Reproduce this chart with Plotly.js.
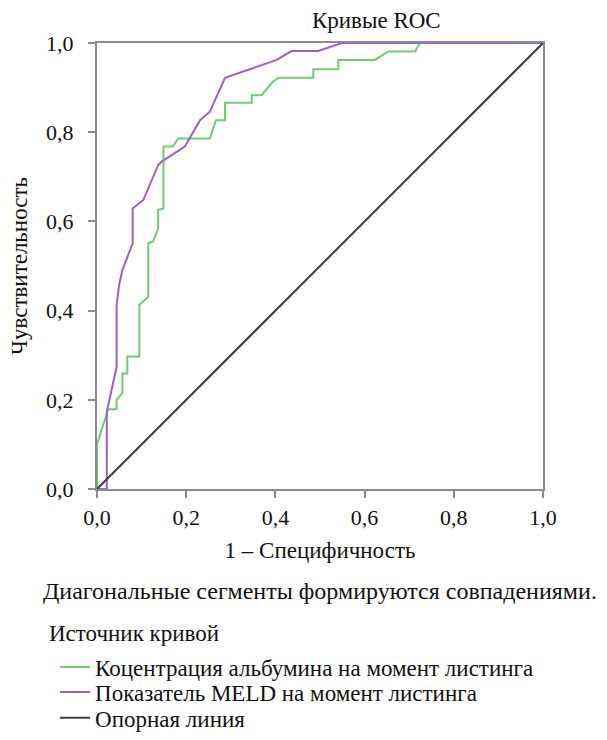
<!DOCTYPE html>
<html>
<head>
<meta charset="utf-8">
<script src="https://cdn.plot.ly/plotly-3.0.1.min.js"></script>
<style>html,body{margin:0;padding:0;background:#fff;}#chart{width:607px;height:740px;}</style>
</head>
<body>
<div id="chart"></div>
<script>
const albuminX = [0, 0, 0.025, 0.044, 0.044, 0.057, 0.057, 0.068, 0.068, 0.095, 0.095, 0.115, 0.115, 0.126, 0.137, 0.137, 0.149, 0.149, 0.170, 0.182, 0.253, 0.267, 0.287, 0.287, 0.347, 0.347, 0.369, 0.394, 0.407, 0.485, 0.485, 0.541, 0.541, 0.623, 0.653, 0.713, 0.724, 1.0];
const albuminY = [0, 0.10, 0.179, 0.179, 0.20, 0.215, 0.259, 0.259, 0.297, 0.297, 0.413, 0.431, 0.551, 0.555, 0.584, 0.626, 0.629, 0.768, 0.768, 0.786, 0.786, 0.827, 0.827, 0.866, 0.866, 0.883, 0.883, 0.913, 0.922, 0.922, 0.941, 0.941, 0.962, 0.962, 0.981, 0.981, 1.0, 1.0];
const meldX = [0, 0.022, 0.022, 0.044, 0.044, 0.050, 0.057, 0.080, 0.080, 0.104, 0.137, 0.145, 0.197, 0.231, 0.253, 0.287, 0.403, 0.436, 0.496, 0.522, 0.549, 1.0];
const meldY = [0, 0, 0.173, 0.274, 0.413, 0.46, 0.491, 0.551, 0.629, 0.648, 0.726, 0.734, 0.768, 0.827, 0.846, 0.922, 0.962, 0.982, 0.982, 0.990, 1.0, 1.0];
const refX = [0, 1];
const refY = [0, 1];
const tickVals = [0, 0.2, 0.4, 0.6, 0.8, 1.0];
const tickText = ["0,0", "0,2", "0,4", "0,6", "0,8", "1,0"];
const seriesNames = ["Коцентрация альбумина на момент листинга", "Показатель MELD на момент листинга", "Опорная линия"];

const FONT = "Liberation Serif, Times New Roman, serif";
const TXT = "#111";
const traces = [
  {x: albuminX, y: albuminY, mode: "lines", name: seriesNames[0], legend: "legend", line: {color: "#6fcd6f", width: 2}},
  {x: meldX, y: meldY, mode: "lines", name: seriesNames[1], legend: "legend2", line: {color: "#9b62c2", width: 2}},
  {x: refX, y: refY, mode: "lines", name: seriesNames[2], legend: "legend3", line: {color: "#3c3c3c", width: 2}}
];
const axisCommon = {
  range: [0, 1], tickvals: tickVals, ticktext: tickText,
  showgrid: false, zeroline: false, showline: true, mirror: true,
  linecolor: "#8c8c8c", linewidth: 2, ticks: "outside", ticklen: 7, tickwidth: 2, tickcolor: "#8c8c8c",
  tickfont: {family: FONT, size: 22, color: TXT}
};
function legendAt(y) {
  return {x: -0.094, xanchor: "left", y: y, yanchor: "middle", bgcolor: "rgba(0,0,0,0)",
    font: {family: FONT, size: 23, color: TXT}, borderwidth: 0};
}
const layout = {
  width: 607, height: 740, autosize: false,
  margin: {l: 97, r: 64, t: 43, b: 251, autoexpand: false},
  paper_bgcolor: "#fff", plot_bgcolor: "#fff",
  font: {family: FONT, size: 23, color: TXT},
  title: {text: "Кривые ROC", font: {family: FONT, size: 23, color: TXT}, xref: "container", yref: "container", x: 0.62, xanchor: "center", y: 0.973, yanchor: "middle"},
  xaxis: Object.assign({}, axisCommon, {ticklabelstandoff: 1, title: {text: "1 – Специфичность", font: {family: FONT, size: 23, color: TXT}, standoff: 12}}),
  yaxis: Object.assign({}, axisCommon, {ticklabelstandoff: 10, title: {text: "Чувствительность", font: {family: FONT, size: 23, color: TXT}, standoff: 12}}),
  showlegend: true,
  legend: legendAt(-0.399),
  legend2: legendAt(-0.455),
  legend3: legendAt(-0.513),
  annotations: [
    {text: "Диагональные сегменты формируются совпадениями.", xref: "paper", yref: "paper", x: 0.5, y: -0.2287, xanchor: "center", yanchor: "middle", showarrow: false, font: {family: FONT, size: 24, color: TXT}},
    {text: "Источник кривой", xref: "paper", yref: "paper", x: -0.112, y: -0.325, xanchor: "left", yanchor: "middle", showarrow: false, font: {family: FONT, size: 23, color: TXT}}
  ]
};
Plotly.newPlot("chart", traces, layout, {displayModeBar: false, staticPlot: true});
</script>
</body>
</html>
